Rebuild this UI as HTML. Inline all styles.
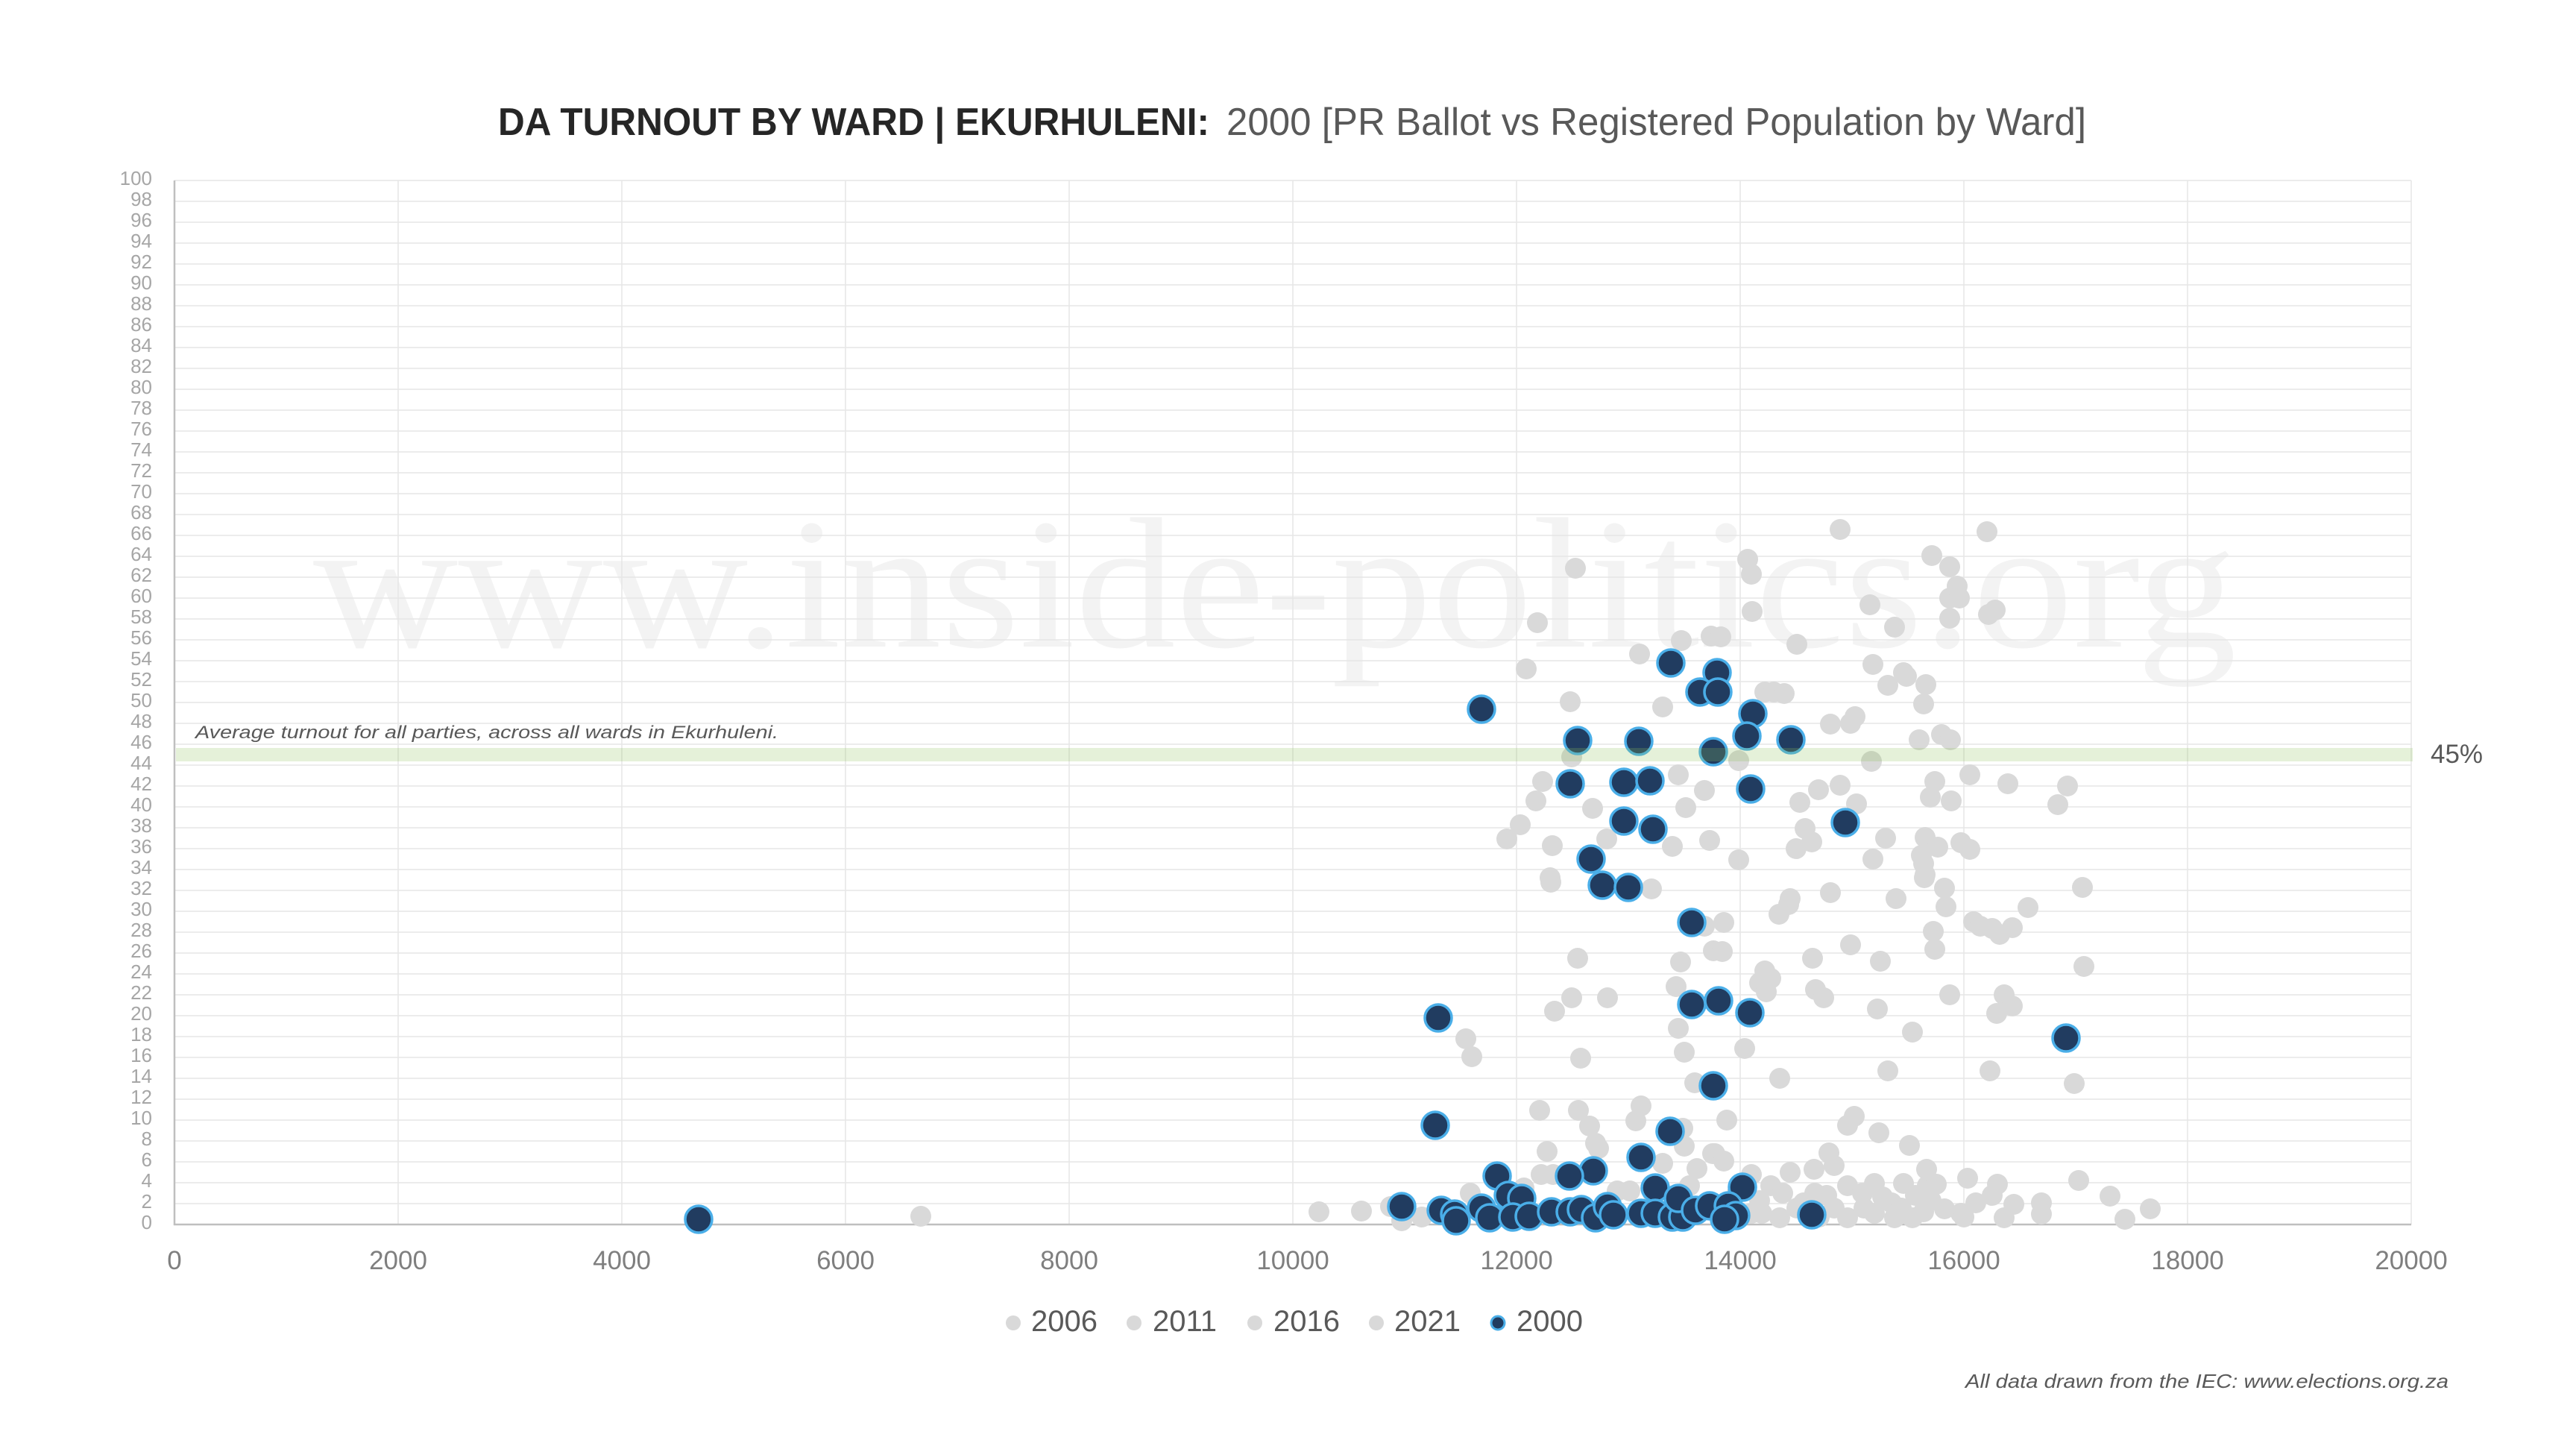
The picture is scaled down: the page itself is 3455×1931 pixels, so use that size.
<!DOCTYPE html>
<html>
<head>
<meta charset="utf-8">
<style>
  html, body { margin:0; padding:0; background:#ffffff; }
  svg { display:block; }
  text { font-family: "Liberation Sans", "DejaVu Sans", sans-serif; }
</style>
</head>
<body>
<svg width="3455" height="1931" viewBox="0 0 3455 1931" xmlns="http://www.w3.org/2000/svg">
  <rect x="0" y="0" width="3455" height="1931" fill="#ffffff"/>

  <!-- Title -->
  <text x="668" y="181" font-size="52" font-weight="bold" fill="#262626" textLength="954" lengthAdjust="spacingAndGlyphs">DA TURNOUT BY WARD | EKURHULENI:</text>
  <text x="1645" y="181" font-size="52" fill="#595959" textLength="1153" lengthAdjust="spacingAndGlyphs">2000 [PR Ballot vs Registered Population by Ward]</text>

  <!-- Watermark -->
  <text x="420" y="867" font-size="250" fill="#f3f3f3" style="font-family:'Liberation Serif','DejaVu Serif',serif" textLength="2580" lengthAdjust="spacingAndGlyphs">www.inside-politics.org</text>

  <!-- Gridlines -->
  <g stroke="#e6e6e6" stroke-width="1.5" id="grid"></g>
  <g id="ylabels" font-size="26" fill="#a6a6a6" text-anchor="end"></g>
  <g id="xlabels" font-size="35" fill="#7f7f7f" text-anchor="middle"></g>

  <!-- Axes -->
  <line x1="234" y1="242" x2="234" y2="1643" stroke="#bfbfbf" stroke-width="2.5"/>
  <line x1="233" y1="1642" x2="3234" y2="1642" stroke="#bfbfbf" stroke-width="2.5"/>

  <g id="gray" fill="#d9d9d9"></g>
  <g id="blue" fill="#213c60" stroke="#4aaee8" stroke-width="3.5"></g>

  <!-- Average band -->
  <rect x="236" y="1003" width="3000" height="18" fill="#8ec25a" opacity="0.23"/>
  <text x="262" y="990" font-size="24" font-style="italic" fill="#595959" textLength="782" lengthAdjust="spacingAndGlyphs">Average turnout for all parties, across all wards in Ekurhuleni.</text>
  <text x="3260" y="1023" font-size="35" fill="#595959">45%</text>

  <!-- Legend -->
  <g fill="#d9d9d9">
    <circle cx="1359" cy="1774" r="10"/>
    <circle cx="1521" cy="1774" r="10"/>
    <circle cx="1683" cy="1774" r="10"/>
    <circle cx="1846" cy="1774" r="10"/>
  </g>
  <circle cx="2009" cy="1774" r="9" fill="#213c60" stroke="#4aaee8" stroke-width="3"/>
  <g font-size="40" fill="#595959">
    <text x="1383" y="1785">2006</text>
    <text x="1546" y="1785">2011</text>
    <text x="1708" y="1785">2016</text>
    <text x="1870" y="1785">2021</text>
    <text x="2034" y="1785">2000</text>
  </g>

  <!-- Footnote -->
  <text x="3284" y="1861" font-size="26" font-style="italic" fill="#595959" text-anchor="end" textLength="648" lengthAdjust="spacingAndGlyphs">All data drawn from the IEC: www.elections.org.za</text>
</svg>
<script>
(function(){
  var NS="http://www.w3.org/2000/svg";
  function el(tag, attrs, parent, txt){
    var e=document.createElementNS(NS,tag);
    for(var k in attrs) e.setAttribute(k, attrs[k]);
    if(txt!==undefined) e.textContent=txt;
    parent.appendChild(e); return e;
  }
  var grid=document.getElementById('grid');
  var yl=document.getElementById('ylabels');
  var xl=document.getElementById('xlabels');
  for(var t=0;t<=100;t+=2){
    var y=1642-14*t;
    if(t>0) el('line',{x1:234,y1:y,x2:3234,y2:y},grid);
    el('text',{x:204,y:y+6},yl,String(t));
  }
  for(var v=0;v<=20000;v+=2000){
    var x=234+0.15*v;
    if(v>0) el('line',{x1:x,y1:242,x2:x,y2:1642},grid);
    el('text',{x:x,y:1702},xl,String(v));
  }
  var gray=[
  [2113,762],[2062,835],[2255,859],[2199,877],[2047,897],[2106,941],[2230,948],[2108,1015],[2069,1048],[2251,1039],[2060,1074],[2136,1084],[2286,1060],[2261,1083],[2039,1106],[2021,1125],[2082,1134],[2155,1125],[2243,1135],[2293,1127],[2295,853],[2079,1177],
  [2344,750],[2468,710],[2665,713],[2591,745],[2349,770],[2615,760],[2625,786],[2615,802],[2628,802],[2508,811],[2350,820],[2676,818],[2667,824],[2615,829],[2541,841],[2308,854],[2410,864],[2512,891],[2553,902],[2532,919],[2557,907],[2583,918],[2580,944],[2367,928],[2379,928],[2393,930],[2455,971],[2488,961],[2482,970],[2574,992],[2604,985],[2616,992],[2332,1020],[2510,1021],[2642,1039],[2693,1051],[2773,1054],[2760,1079],[2595,1048],[2589,1069],[2617,1074],[2468,1053],[2439,1059],[2414,1076],[2490,1078],[2421,1111],[2430,1129],[2409,1138],[2529,1124],[2582,1123],[2599,1136],[2630,1130],[2642,1139],[2512,1152],[2332,1153],[2577,1147],[2580,1158],[2582,1173],
  [2080,1183],[2215,1192],[2286,1242],[2116,1285],[2254,1290],[2298,1275],[2248,1323],[2108,1338],[2156,1338],[2085,1356],[2251,1379],[1966,1393],[1974,1417],[2120,1419],[2259,1411],[2273,1452],[2065,1489],[2117,1489],[2132,1510],[2201,1483],[2194,1503],[2257,1513],[2259,1537],[2075,1544],[2140,1533],[2144,1540],[2230,1560],[2276,1567],[2297,1547],[2067,1575],[2083,1575],[2169,1597],[1972,1600],[1769,1625],[1826,1624],[1865,1618],[1880,1637],[1907,1632],[2044,1593],[2186,1597],[2266,1590],[2217,1600],[1235,1631],
  [2581,1177],[2608,1191],[2793,1190],[2455,1197],[2543,1205],[2401,1205],[2399,1213],[2386,1226],[2610,1216],[2312,1237],[2720,1217],[2647,1236],[2656,1242],[2672,1245],[2682,1253],[2699,1244],[2593,1249],[2595,1273],[2482,1267],[2310,1276],[2431,1285],[2522,1289],[2795,1296],[2367,1302],[2375,1312],[2360,1318],[2369,1330],[2435,1327],[2446,1338],[2615,1334],[2688,1334],[2699,1349],[2678,1359],[2518,1353],[2565,1384],[2340,1406],[2387,1446],[2532,1436],[2669,1436],[2782,1453],[2316,1502],[2487,1497],[2478,1509],[2520,1519],[2561,1536],[2453,1546],[2460,1563],[2433,1568],[2401,1572],[2349,1575],[2584,1568],[2639,1580],[2679,1588],[2788,1583],[2830,1604],[2884,1621],[2850,1635],[2738,1613],[2738,1628],[2701,1615],[2608,1621],[2630,1627],[2634,1632],[2650,1613],[2672,1603],[2688,1633],[2300,1547],[2312,1557],
  [2375,1590],[2391,1600],[2387,1633],[2419,1613],[2434,1600],[2450,1603],[2478,1590],[2478,1633],[2498,1600],[2514,1587],[2514,1627],[2537,1613],[2541,1633],[2553,1587],[2569,1603],[2565,1633],[2585,1590],[2597,1588],[2363,1627],[2349,1627],[2330,1600],[2410,1620],[2460,1620],[2525,1605],[2590,1610],[2440,1632],[2500,1620],[2550,1620],[2360,1610],[2580,1625]
  ];
  var g=document.getElementById('gray');
  gray.forEach(function(p){ el('circle',{cx:p[0],cy:p[1],r:14},g); });
  var blue=[
  [937,1635],
  [1987,951],[2241,889],[2303,902],[2280,928],[2304,928],[2116,993],[2198,994],[2298,1008],[2106,1051],[2178,1049],[2213,1047],[2178,1101],[2217,1112],[2134,1152],[2351,957],[2343,987],[2402,992],[2348,1058],[2475,1103],[2149,1187],[2184,1190],[2269,1237],[2269,1347],[2305,1342],[2347,1358],[2771,1392],[2298,1456],[1929,1365],[1925,1509],[2240,1517],[2201,1552],[2137,1570],[2105,1577],[2008,1577],[2220,1593],[2337,1592],[1880,1618],
  [1933,1623],[1951,1628],[1953,1637],[1987,1620],[1998,1633],[2023,1603],[2041,1607],[2029,1632],[2051,1631],[2081,1625],[2106,1625],[2121,1622],[2140,1633],[2156,1618],[2164,1629],[2201,1627],[2220,1627],[2243,1632],[2257,1632],[2251,1607],[2274,1623],[2293,1617],[2318,1617],[2328,1630],[2430,1629],[2313,1635]
  ];
  var b=document.getElementById('blue');
  blue.forEach(function(p){ el('circle',{cx:p[0],cy:p[1],r:18},b); });
})();
</script>
</body>
</html>
